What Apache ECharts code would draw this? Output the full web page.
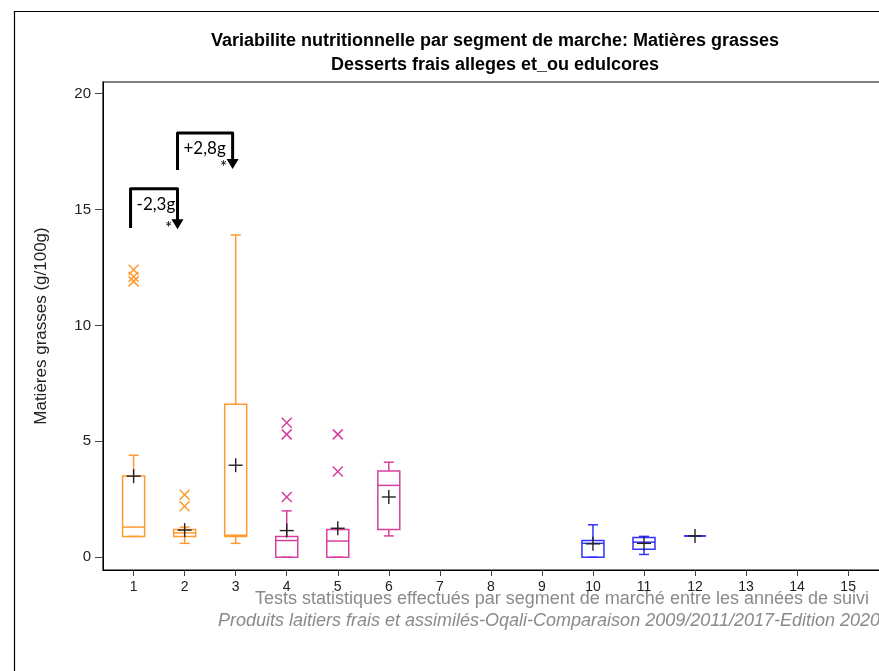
<!DOCTYPE html>
<html>
<head>
<meta charset="utf-8">
<script src="https://cdn.jsdelivr.net/npm/echarts@6/dist/echarts.min.js"></script>
<style>
html,body{margin:0;padding:0;background:#fff;}
#chart{width:879px;height:671px;}
</style>
</head>
<body>
<div id="chart"></div>
<script>
// segments on the x axis
var segments = [1,2,3,4,5,6,7,8,9,10,11,12,13,14,15];
var yTicks = [0,5,10,15,20];

// [segment, min, q1, median, q3, max]
var boxOrange = [[1,0.9,0.9,1.3,3.5,4.4],[2,0.6,0.9,1.05,1.2,1.3],[3,0.6,0.9,0.95,6.6,13.9]];
var boxMagenta = [[4,0.0,0.0,0.72,0.9,2.0],[5,0.0,0.0,0.7,1.2,1.2],[6,0.92,1.2,3.1,3.72,4.1]];
var boxBlue = [[10,0.0,0.0,0.6,0.72,1.4],[11,0.12,0.35,0.65,0.85,0.9],[12,0.92,0.92,0.92,0.92,0.92]];

// means [segment, value]
var means = [[1,3.5],[2,1.17],[3,3.97],[4,1.15],[5,1.25],[6,2.6],[10,0.58],[11,0.6],[12,0.92]];

// outliers [segment, value]
var outOrange = [[1,12.4],[1,12.1],[1,11.9],[2,2.7],[2,2.2]];
var outMagenta = [[4,5.8],[4,5.3],[4,2.6],[5,5.3],[5,3.7]];

// brackets [xStart, xEnd, yTop, yStart, yArrow, label]
var brackets = [[0.94,1.86,15.9,14.2,14.15,'-2,3g'],[1.86,2.94,18.3,16.7,16.75,'+2,8g']];

var cOrange = '#FF9A2E', cMagenta = '#D6409C', cBlue = '#3232FF';

function boxRender(color) {
  return function (params, api) {
    var x = api.value(0);
    var pMin = api.coord([x, api.value(1)]);
    var pQ1 = api.coord([x, api.value(2)]);
    var pMed = api.coord([x, api.value(3)]);
    var pQ3 = api.coord([x, api.value(4)]);
    var pMax = api.coord([x, api.value(5)]);
    var cx = pMin[0], hw = 11, cw = 5;
    var st = {stroke: color, lineWidth: 1.5, fill: null};
    return {type: 'group', children: [
      {type: 'line', shape: {x1: cx, y1: pMax[1], x2: cx, y2: pQ3[1]}, style: st},
      {type: 'line', shape: {x1: cx, y1: pMin[1], x2: cx, y2: pQ1[1]}, style: st},
      {type: 'line', shape: {x1: cx - cw, y1: pMax[1], x2: cx + cw, y2: pMax[1]}, style: st},
      {type: 'line', shape: {x1: cx - cw, y1: pMin[1], x2: cx + cw, y2: pMin[1]}, style: st},
      {type: 'rect', shape: {x: cx - hw, y: pQ3[1], width: hw * 2, height: pQ1[1] - pQ3[1]}, style: st},
      {type: 'line', shape: {x1: cx - hw, y1: pMed[1], x2: cx + hw, y2: pMed[1]}, style: st}
    ]};
  };
}

function crossRender(color) {
  return function (params, api) {
    var p = api.coord([api.value(0), api.value(1)]);
    var s = 5;
    var st = {stroke: color, lineWidth: 1.5};
    return {type: 'group', children: [
      {type: 'line', shape: {x1: p[0] - s, y1: p[1] - s, x2: p[0] + s, y2: p[1] + s}, style: st},
      {type: 'line', shape: {x1: p[0] - s, y1: p[1] + s, x2: p[0] + s, y2: p[1] - s}, style: st}
    ]};
  };
}

function plusRender(params, api) {
  var p = api.coord([api.value(0), api.value(1)]);
  var s = 7;
  var st = {stroke: '#222', lineWidth: 1.4};
  return {type: 'group', children: [
    {type: 'line', shape: {x1: p[0] - s, y1: p[1], x2: p[0] + s, y2: p[1]}, style: st},
    {type: 'line', shape: {x1: p[0], y1: p[1] - s, x2: p[0], y2: p[1] + s}, style: st}
  ]};
}

function bracketRender(params, api) {
  var a = api.coord([api.value(0), api.value(3)]);
  var b = api.coord([api.value(0), api.value(2)]);
  var c = api.coord([api.value(1), api.value(2)]);
  var d = api.coord([api.value(1), api.value(4)]);
  var lbl = brackets[params.dataIndex][5];
  return {type: 'group', children: [
    {type: 'polyline', shape: {points: [a, b, c, [d[0], d[1] - 9]]},
      style: {stroke: '#000', lineWidth: 3, fill: null, lineJoin: 'round'}},
    {type: 'polygon', shape: {points: [[d[0] - 6, d[1] - 10], [d[0] + 6, d[1] - 10], [d[0], d[1]]]},
      style: {fill: '#000'}},
    {type: 'text', x: b[0] + 6, y: b[1] + 7,
      style: {text: lbl, fill: '#000', font: '17px Lato, "Open Sans", sans-serif', textAlign: 'left', textVerticalAlign: 'top'}},
    {type: 'text', x: d[0] - 9, y: d[1] - 1,
      style: {text: '*', fill: '#000', font: '17px Lato, sans-serif', textAlign: 'center', textVerticalAlign: 'middle'}}
  ]};
}

var chart = echarts.init(document.getElementById('chart'));
var option = {
  animation: false,
  backgroundColor: '#fff',
  title: [
    {text: 'Variabilite nutritionnelle par segment de marche: Matières grasses', left: 490, top: 27, textAlign: 'center',
      textStyle: {fontFamily: 'Liberation Sans, Arial', fontSize: 18, fontWeight: 'bold', color: '#000'}},
    {text: 'Desserts frais alleges et_ou edulcores', left: 490, top: 51, textAlign: 'center',
      textStyle: {fontFamily: 'Liberation Sans, Arial', fontSize: 18, fontWeight: 'bold', color: '#000'}}
  ],
  graphic: [
    {type: 'rect', shape: {x: 14.5, y: 11.5, width: 900, height: 700}, style: {fill: null, stroke: '#000', lineWidth: 1.2}, silent: true},
    {type: 'text', left: 255, top: 590, style: {text: 'Tests statistiques effectués par segment de marché entre les années de suivi', fill: '#8a8a8a', font: '18px "Liberation Sans", Arial'}},
    {type: 'text', left: 218, top: 612, style: {text: 'Produits laitiers frais et assimilés-Oqali-Comparaison 2009/2011/2017-Edition 2020', fill: '#8a8a8a', font: 'italic 18px "Liberation Sans", Arial'}}
  ],
  grid: {left: 103, top: 82, right: -12, bottom: 101, outerBoundsMode: 'none', containLabel: false,
    show: true, borderColor: '#000', borderWidth: 1.2, backgroundColor: 'transparent'},
  xAxis: {
    type: 'value', min: 0.4, max: 15.84,
    axisLine: {show: true, onZero: false, lineStyle: {color: '#000'}},
    splitLine: {show: false},
    axisTick: {show: true, length: 6, customValues: segments, lineStyle: {color: '#444'}},
    axisLabel: {customValues: segments, margin: 10, color: '#222', fontSize: 14, fontFamily: 'Liberation Sans, Arial'}
  },
  yAxis: {
    type: 'value', min: -0.55, max: 20.5,
    name: 'Matières grasses (g/100g)', nameLocation: 'middle', nameGap: 53,
    nameTextStyle: {color: '#222', fontSize: 17, fontFamily: 'Liberation Sans, Arial'},
    axisLine: {show: true, onZero: false, lineStyle: {color: '#000'}},
    splitLine: {show: false},
    axisTick: {show: true, length: 8, customValues: yTicks, lineStyle: {color: '#444'}},
    axisLabel: {customValues: yTicks, margin: 12, color: '#222', fontSize: 15, fontFamily: 'Liberation Sans, Arial'}
  },
  series: [
    {type: 'custom', renderItem: boxRender(cOrange), data: boxOrange, encode: {x: 0, y: [1, 5]}},
    {type: 'custom', renderItem: boxRender(cMagenta), data: boxMagenta, encode: {x: 0, y: [1, 5]}},
    {type: 'custom', renderItem: boxRender(cBlue), data: boxBlue, encode: {x: 0, y: [1, 5]}},
    {type: 'custom', renderItem: crossRender(cOrange), data: outOrange},
    {type: 'custom', renderItem: crossRender(cMagenta), data: outMagenta},
    {type: 'custom', renderItem: plusRender, data: means, z: 5},
    {type: 'custom', renderItem: bracketRender, data: brackets.map(function (b) { return b.slice(0, 5); }), z: 6}
  ]
};
chart.setOption(option);
</script>
</body>
</html>
